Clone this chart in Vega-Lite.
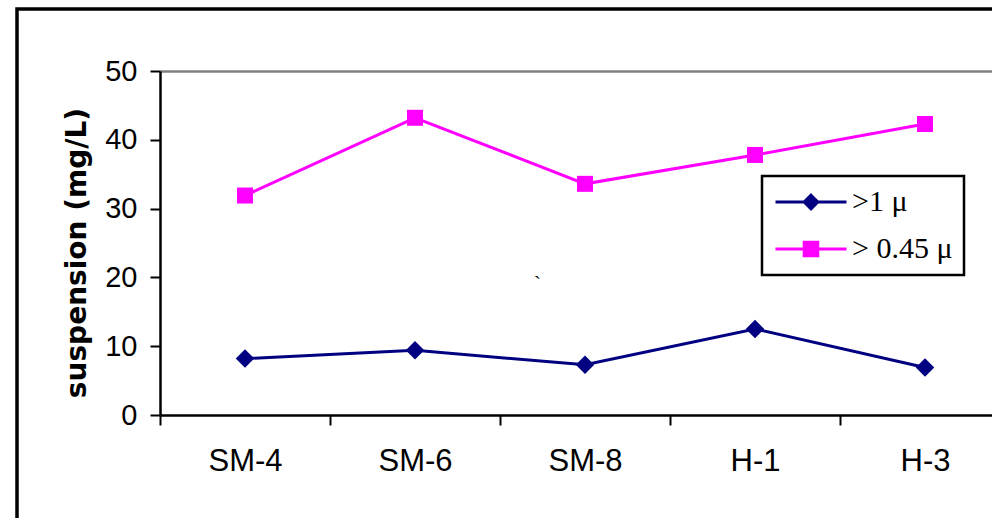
{
  "$schema": "https://vega.github.io/schema/vega-lite/v6.json",
  "width": 975,
  "height": 509,
  "autosize": "none",
  "padding": {"left": 17, "top": 9, "right": 0, "bottom": 0},
  "background": "white",
  "config": {
    "view": {"stroke": "black", "strokeWidth": 3.5, "strokeDash": [975, 1484, 509]}
  },
  "data": {
    "values": [
      {"category": "SM-4", "series": ">1 μ", "value": 8.2},
      {"category": "SM-6", "series": ">1 μ", "value": 9.4},
      {"category": "SM-8", "series": ">1 μ", "value": 7.3},
      {"category": "H-1", "series": ">1 μ", "value": 12.5},
      {"category": "H-3", "series": ">1 μ", "value": 6.9},
      {"category": "SM-4", "series": "> 0.45 μ", "value": 31.9},
      {"category": "SM-6", "series": "> 0.45 μ", "value": 43.2},
      {"category": "SM-8", "series": "> 0.45 μ", "value": 33.6},
      {"category": "H-1", "series": "> 0.45 μ", "value": 37.8},
      {"category": "H-3", "series": "> 0.45 μ", "value": 42.3}
    ]
  },
  "encoding": {
    "x": {
      "field": "category",
      "type": "nominal",
      "scale": {
        "type": "band",
        "domain": ["SM-4", "SM-6", "SM-8", "H-1", "H-3"],
        "range": [143, 993],
        "paddingInner": 0,
        "paddingOuter": 0
      },
      "axis": {
        "orient": "bottom",
        "offset": -103,
        "title": null,
        "grid": false,
        "tickBand": "extent",
        "tickSize": 10,
        "tickWidth": 2,
        "tickColor": "black",
        "domainColor": "black",
        "domainWidth": 2.5,
        "labelAngle": 0,
        "labelFont": "Liberation Sans, Arial",
        "labelFontSize": 31,
        "labelColor": "black",
        "labelPadding": 21
      }
    },
    "y": {
      "field": "value",
      "type": "quantitative",
      "scale": {"domain": [0, 50], "range": [406, 62], "nice": false},
      "axis": {
        "orient": "left",
        "offset": -143,
        "values": [0, 10, 20, 30, 40, 50],
        "domainColor": "black",
        "domainWidth": 2.5,
        "tickColor": "black",
        "tickWidth": 2,
        "tickSize": 10,
        "labelFont": "Liberation Sans, Arial",
        "labelFontSize": 29,
        "labelColor": "black",
        "labelPadding": 13,
        "title": "suspension (mg/L)",
        "titleFont": "DejaVu Sans",
        "titleFontWeight": "bold",
        "titleFontSize": 28,
        "titleColor": "black",
        "titleX": -83,
        "titleY": 243.5,
        "titleAlign": "center",
        "titleBaseline": "middle",
        "grid": true,
        "gridColor": {"condition": {"test": "datum.value === 50", "value": "#808080"}, "value": "transparent"},
        "gridWidth": 2.5
      }
    }
  },
  "layer": [
    {
      "mark": {"type": "line", "strokeWidth": 3},
      "encoding": {
        "color": {
          "field": "series",
          "type": "nominal",
          "scale": {"domain": [">1 μ", "> 0.45 μ"], "range": ["#000080", "#FF00FF"]},
          "legend": {
            "title": null,
            "orient": "none",
            "legendX": 745,
            "legendY": 167,
            "direction": "vertical",
            "padding": 11,
            "strokeColor": "black",
            "fillColor": "white",
            "labelFont": "Liberation Serif",
            "labelFontSize": 30,
            "labelColor": "black",
            "symbolSize": 400,
            "symbolStrokeWidth": 3,
            "symbolOffset": 23,
            "labelOffset": 26,
            "rowPadding": 17,
            "encode": {
              "legend": {"update": {"strokeWidth": {"value": 2.5}}},
              "symbols": {
                "update": {
                  "shape": {"signal": "datum.index === 0 ? 'M-3.55,0H3.55M0,-0.68L0.68,0L0,0.68L-0.68,0Z' : 'M-3.55,0H3.55M-0.68,-0.68H0.68V0.68H-0.68Z'"},
                  "fill": {"scale": "color", "field": "value"},
                  "stroke": {"scale": "color", "field": "value"},
                  "strokeWidth": {"value": 3},
                  "opacity": {"value": 1}
                }
              }
            }
          }
        }
      }
    },
    {
      "transform": [{"filter": "datum.series === '>1 μ'"}],
      "mark": {"type": "point", "shape": "diamond", "filled": true, "size": 340, "opacity": 1},
      "encoding": {
        "color": {"field": "series", "type": "nominal", "legend": null}
      }
    },
    {
      "transform": [{"filter": "datum.series === '> 0.45 μ'"}],
      "mark": {"type": "point", "shape": "square", "filled": true, "size": 256, "opacity": 1},
      "encoding": {
        "color": {"field": "series", "type": "nominal", "legend": null}
      }
    },
    {
      "data": {"values": [{"category": "SM-8", "value": 19.0, "note": "`"}]},
      "mark": {"type": "text", "font": "Liberation Serif", "fontSize": 22, "color": "black", "baseline": "middle"},
      "encoding": {
        "x": {"field": "category", "type": "nominal", "bandPosition": 0.22},
        "text": {"field": "note", "type": "nominal"}
      }
    }
  ]
}
